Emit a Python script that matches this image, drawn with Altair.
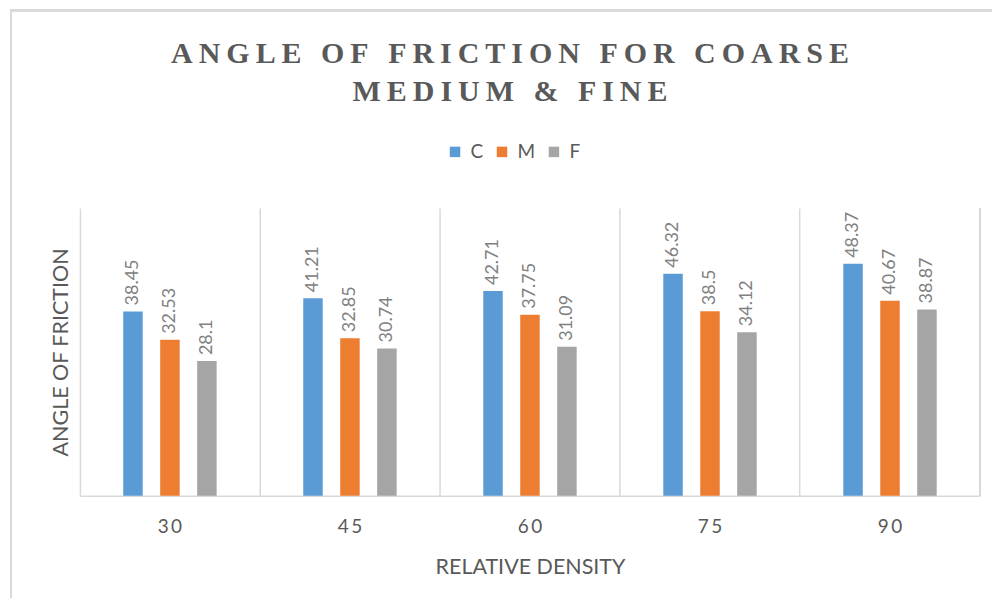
import altair as alt
import pandas as pd

densities = ["30", "45", "60", "75", "90"]
types = ["C", "M", "F"]
coarse = [38.45, 41.21, 42.71, 46.32, 48.37]
medium = [32.53, 32.85, 37.75, 38.5, 40.67]
fine = [28.1, 30.74, 31.09, 34.12, 38.87]
colors = ["#5b9bd5", "#ed7d31", "#a5a5a5"]

rows = []
for t, vals in zip(types, [coarse, medium, fine]):
    for d, v in zip(densities, vals):
        rows.append({"density": d, "type": t, "value": v})
df = pd.DataFrame(rows)

TS = "\u2009"
def spaced(s):
    return TS.join(list(s))

title_lines = [spaced("ANGLE OF FRICTION FOR COARSE"), spaced("MEDIUM & FINE")]

W, H = 901, 288

x_enc = alt.X(
    "density:N",
    sort=densities,
    scale=alt.Scale(paddingInner=0, paddingOuter=0),
    axis=alt.Axis(
        title="RELATIVE DENSITY",
        labelAngle=0,
        labelExpr="join(split(datum.label, ''), '\u2009')",
        labelFont="Lato",
        labelFontSize=19,
        labelColor="#595959",
        labelPadding=22,
        titleFont="Lato",
        titleFontSize=21.5,
        titleFontWeight="normal",
        titleColor="#595959",
        titlePadding=20,
        ticks=False,
        domainColor="#d9d9d9",
        domainWidth=1.5,
        grid=True,
        gridColor="#d9d9d9",
        gridWidth=1.5,
        bandPosition=0,
    ),
)
xo_enc = alt.XOffset(
    "type:N",
    sort=types,
    scale=alt.Scale(paddingInner=0.13, paddingOuter=1),
)
y_enc = alt.Y(
    "value:Q",
    scale=alt.Scale(domain=[0, 60]),
    axis=alt.Axis(
        title="ANGLE OF FRICTION",
        labels=False,
        ticks=False,
        domain=False,
        grid=False,
        titleFont="Lato",
        titleFontSize=21.5,
        titleFontWeight="normal",
        titleColor="#595959",
        titleAngle=270,
        titleX=-18,
        titleY=H / 2,
        titleAlign="center",
        titleBaseline="middle",
    ),
)

bars = alt.Chart(df).mark_bar(width=19.5).encode(
    x=x_enc,
    xOffset=xo_enc,
    y=y_enc,
    color=alt.Color(
        "type:N",
        sort=types,
        scale=alt.Scale(domain=types, range=colors),
        legend=alt.Legend(
            title=None,
            orient="none",
            direction="horizontal",
            legendX=366,
            legendY=-66,
            symbolType="square",
            symbolSize=110,
            symbolStrokeWidth=0,
            labelFont="Lato",
            labelFontSize=19,
            labelColor="#595959",
            labelOffset=6,
            columnPadding=9,
        ),
    ),
)

labels = alt.Chart(df).mark_text(
    angle=270, align="left", baseline="middle", dx=6,
    font="Lato", fontSize=18, color="#808080",
).encode(
    x=alt.X("density:N", sort=densities),
    xOffset=alt.XOffset("type:N", sort=types),
    y=alt.Y("value:Q"),
    text=alt.Text("value:Q"),
)

right_line = alt.Chart(df).mark_rule(color="#d9d9d9", strokeWidth=1.5).encode(
    x=alt.value(W), y=alt.value(0), y2=alt.value(H)
)

# outer chart-area border (top and left edges visible in the reference)
border_left = alt.Chart(df).mark_rule(color="#d9d9d9", strokeWidth=2).encode(
    x=alt.value(-69), y=alt.value(-198), y2=alt.value(H + 120)
)
border_top = alt.Chart(df).mark_rule(color="#d9d9d9", strokeWidth=2).encode(
    x=alt.value(-70), x2=alt.value(W + 40), y=alt.value(-198)
)

chart = alt.layer(bars, labels, right_line, border_left, border_top).properties(
    width=W,
    height=H,
    title=alt.TitleParams(
        text=title_lines,
        font="Liberation Serif",
        fontSize=30,
        fontWeight="bold",
        color="#595959",
        anchor="middle",
        lineHeight=38,
        dx=-20,
        offset=-98,
    ),
    autosize=alt.AutoSizeParams(type="none"),
    padding={"left": 72, "top": 200, "right": 12, "bottom": 102},
    background="white",
).configure_view(stroke=None)

chart.save("out.html", embed_options={"renderer": "svg", "actions": False})
